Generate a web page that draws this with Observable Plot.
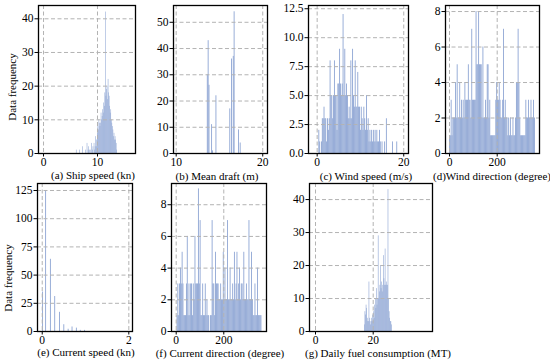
<!DOCTYPE html>
<html><head><meta charset="utf-8">
<script src="https://cdn.jsdelivr.net/npm/d3@7"></script>
<script src="https://cdn.jsdelivr.net/npm/@observablehq/plot@0.6"></script>
<style>
body{margin:0;background:#fff;}
#root{position:relative;width:550px;height:360px;overflow:hidden;font-family:"Liberation Serif","Times New Roman",serif;color:#000;}
.lab{position:absolute;font-size:11px;white-space:nowrap;transform:translate(-50%,-50%);}
.ylab{position:absolute;font-size:11px;white-space:nowrap;transform:translate(-50%,-50%) rotate(-90deg);}
</style></head><body><div id="root"></div>
<script>
// ---------- data ----------
// (a) Ship speed (kn): histogram bins starting at 6.0, width 0.1
const shipSpeedStart = 6.0, shipSpeedWidth = 0.1;
const shipSpeedCounts = [0,1,0,0,0,0,0,1,0,0, 0,0,0,2,0,0,0,0,1,0, 0,3,0,1,2,0,1,0,1,3,
  0,1,2,0,3,1,2,5,2,4, 6,8,7,10,9,8,9,12,10,11, 13,12,15,14,18,42,17,19,20,16,
  22,18,17,14,12,13,10,9,8,7, 5,6,4,5,4,3,1];
// (b) Mean draft (m): sparse bins
const draftValues = [13.6,13.7,13.8,14.1,14.2,14.6,16.2,16.4,16.6,16.7,17.2,17.4];
const draftCounts = [30,43,26,11,1,22,17,36,37,54,9,4];
const draftWidth = 0.1;
// (c) Wind speed (m/s): bins start 0.2, width 0.2
const windSpeedStart = 0.2, windSpeedWidth = 0.2;
const windSpeedCounts = [0,2,1,0, 1,3,3,4,3, 3,1,3,2,3, 8,5,5,3,5, 8,5,5,2,6, 6,9,6,5,6,
  12,5,9,5,6, 5,3,4,3,8, 3,9,5,4,8, 4,4,7,4,4, 2,4,3,2,4, 3,2,5,2,3, 1,2,1,2,1,
  2,1,2,1,2, 1,1,2,1,0, 1,0,0,1,0, 3,0,0,0,0, 0,0,1,0,0, 0,0,1,0,0];
// (d) Wind direction (degree): bins start 0, width 3.6
const windDirStart = 0, windDirWidth = 3.6;
const windDirCounts = [1,1,3,1,2,2,2,4,2,5, 2,2,4,2,3,2,3,2,4,3, 3,3,5,3,3,2,7,3,3,3,
  3,8,5,5,8,5,5,5,2,6, 2,2,3,2,5,5,2,3,1,1, 1,1,1,1,3,4,3,3,4,3,
  2,2,3,7,2,3,2,2,1,2, 1,2,1,1,2,1,1,2,4,4, 7,4,2,1,1,1,1,1,1,3,
  2,2,3,2,2,3,2,2,3,2];
// (e) Current speed (kn): sparse bins
const curSpeedValues = [0.01,0.08,0.19,0.29,0.40,0.50,0.60,0.69,0.79,0.88,0.98];
const curSpeedCounts = [35,125,64,31,17,6,2,4,3,1,1];
const curSpeedWidth = 0.02;
// (f) Current direction (degree): bins start 0, width 3.6
const curDirStart = 0, curDirWidth = 3.6;
const curDirCounts = [0,1,3,1,3,4,3,5,3,1, 1,1,3,6,1,3,1,3,3,1, 3,2,6,3,3,3,9,3,7,1,
  1,3,1,1,3,1,2,1,1,0, 1,1,7,3,3,1,5,3,3,3, 2,2,3,2,2,5,2,4,2,2,
  7,2,2,4,2,2,3,2,5,2, 3,5,2,3,4,2,3,3,2,5, 2,2,3,2,2,7,2,2,5,2,
  1,1,3,1,1,4,1,1,1,1];
// (g) Daily fuel consumption (MT): bins start 17.0, width 0.2
const fuelStart = 17.0, fuelWidth = 0.2;
const fuelCounts = [2,6,5,8,7, 4,3,3,15,4, 3,2,4,3,5, 3,6,4,8,10, 7,13,8,10,29,
  10,12,14,20,13, 15,12,14,23,16, 14,25,14,15,14, 14,43,10,6,4, 3,3,2];

const xLabels = ["(a) Ship speed (kn)","(b) Mean draft (m)","(c) Wind speed (m/s)","(d)Wind direction (degree)",
  "(e) Current speed (kn)","(f) Current direction  (degree)","(g) Daily fuel consumption (MT)"];
const yLabel = "Data frequency";

// ---------- helpers ----------
const regular = (start, w, counts) => counts.map((c, i) => ({x1: start + i*w, x2: start + (i+1)*w, y: c}));
const sparse = (vals, w, counts) => vals.map((v, i) => ({x1: v, x2: v + w, y: counts[i]}));

const root = document.getElementById("root");
const BAR = "#8aa2d2";
const GRID = {stroke: "#b3b3b3", strokeOpacity: 1, strokeDasharray: "4,2.5", strokeWidth: 1};

function panel({left, top, w, h, xdom, ydom, xticks, yticks, bars, yfmt}) {
  const mL = 34, mR = 6, mT = 6, mB = 18;
  const svg = Plot.plot({
    width: w + mL + mR, height: h + mT + mB,
    marginLeft: mL, marginRight: mR, marginTop: mT, marginBottom: mB,
    style: {fontFamily: "'Liberation Serif', serif", fontSize: "11.5px", color: "black", background: "transparent", overflow: "visible"},
    x: {domain: xdom},
    y: {domain: ydom},
    marks: [
      Plot.rect(bars, {x1: "x1", x2: "x2", y1: () => 0, y2: "y", fill: BAR, shapeRendering: "geometricPrecision"}),
      Plot.gridX(xticks, GRID),
      Plot.gridY(yticks, GRID),
      Plot.axisX(xticks, {tickSize: 3.5, tickPadding: 1, label: null, fontSize: 11.5}),
      Plot.axisY(yticks, {tickSize: 3.5, tickPadding: 1.5, label: null, tickFormat: yfmt, fontSize: 11.5}),
      Plot.frame({stroke: "black", strokeWidth: 1.3})
    ]
  });
  svg.style.position = "absolute";
  svg.style.left = (left - mL) + "px";
  svg.style.top = (top - mT) + "px";
  root.appendChild(svg);
}

panel({left: 38, top: 5, w: 97, h: 148, xdom: [-0.93, 17.04], ydom: [0, 43.95],
  xticks: [0, 10], yticks: [0, 10, 20, 30, 40], bars: regular(shipSpeedStart, shipSpeedWidth, shipSpeedCounts)});
panel({left: 173, top: 5, w: 94, h: 148, xdom: [9.69, 20.55], ydom: [0, 56.4],
  xticks: [10, 20], yticks: [0, 10, 20, 30, 40, 50], bars: sparse(draftValues, draftWidth, draftCounts)});
panel({left: 308, top: 5, w: 100, h: 148, xdom: [-2.0, 21.1], ydom: [0, 12.78],
  xticks: [0, 20], yticks: [0, 2.5, 5, 7.5, 10, 12.5], yfmt: d3.format(".1f"), bars: regular(windSpeedStart, windSpeedWidth, windSpeedCounts)});
panel({left: 445, top: 5, w: 94, h: 148, xdom: [-16.8, 377.4], ydom: [0, 8.34],
  xticks: [0, 200], yticks: [0, 2, 4, 6, 8], bars: regular(windDirStart, windDirWidth, windDirCounts)});
panel({left: 37, top: 183, w: 95, h: 148, xdom: [-0.109, 2.085], ydom: [0, 131.2],
  xticks: [0, 2], yticks: [0, 25, 50, 75, 100, 125], bars: sparse(curSpeedValues, curSpeedWidth, curSpeedCounts)});
panel({left: 171, top: 183, w: 95, h: 148, xdom: [-19.7, 379.4], ydom: [0, 9.34],
  xticks: [0, 200], yticks: [0, 2, 4, 6, 8], bars: regular(curDirStart, curDirWidth, curDirCounts)});
panel({left: 309, top: 183, w: 123, h: 148, xdom: [-2.08, 40.56], ydom: [0, 44.87],
  xticks: [0, 20], yticks: [0, 10, 20, 30, 40], bars: regular(fuelStart, fuelWidth, fuelCounts)});

const labPos = [[93,175],[217,175.5],[366,175.5],[492,175.5],[86,351.5],[220,353],[378,353]];
xLabels.forEach((t, i) => {
  const d = document.createElement("div");
  d.className = "lab"; d.textContent = t;
  d.style.left = labPos[i][0] + "px"; d.style.top = labPos[i][1] + "px";
  root.appendChild(d);
});
[[12, 87], [8, 278]].forEach(([x, y]) => {
  const d = document.createElement("div");
  d.className = "ylab"; d.textContent = yLabel;
  d.style.left = x + "px"; d.style.top = y + "px";
  root.appendChild(d);
});
</script></body></html>
